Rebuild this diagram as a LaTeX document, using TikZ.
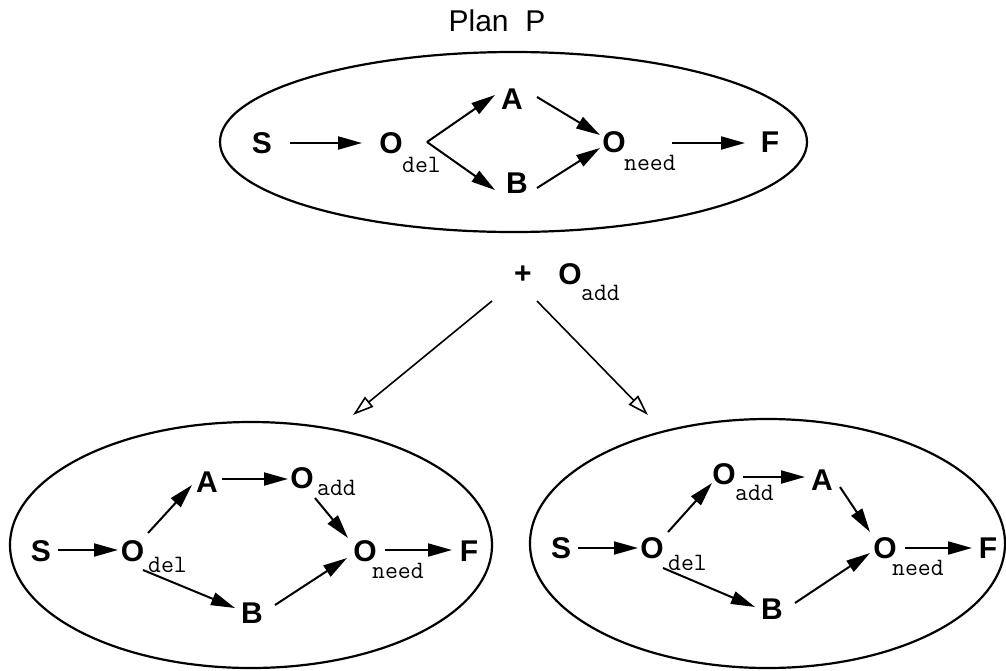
\documentclass[tikz,border=0pt]{standalone}
\usepackage{fontspec}
\setmainfont{Liberation Sans}
\setsansfont{Liberation Sans}
\usetikzlibrary{arrows.meta}
\begin{document}
\begin{tikzpicture}[x=1pt,y=-1pt,
  lett/.style={inner sep=0pt, font=\fontsize{30}{34}\selectfont\bfseries},
  sub/.style={inner sep=0pt, anchor=base west, font=\fontsize{25}{28}\selectfont\ttfamily},
  arr/.style={line width=2pt, -{Triangle[length=24pt,width=13pt]}},
  harr/.style={line width=1.6pt, -{Triangle[open,length=21pt,width=13pt,line width=1.6pt]}},
  oval/.style={line width=2.2pt}]
\useasboundingbox (0,0) rectangle (1006,670);

% title
\node[inner sep=0pt, anchor=base, font=\fontsize{30}{34}\selectfont] (title) at (497,31.5) {Plan\ \ P};

% ---- plan P ----
\draw[oval] (513.5,142) ellipse [x radius=293.5pt, y radius=90pt];
\node[lett] (tS)  at (262,143) {S};
\node[lett] (tOd) at (391,143) {O};
\node[sub]  (tdel) at (402,172) {del};
\node[lett] (tA)  at (512,99)  {A};
\node[lett] (tB)  at (517,183) {B};
\node[lett] (tOn) at (614,142) {O};
\node[sub]  (tneed) at (624,170) {need};
\node[lett] (tF)  at (770,142) {F};

\draw[arr] ([shift={(28,0)}]tS.center) -- ([shift={(-29,0)}]tOd.center);
\draw[arr] ([shift={(36,-1)}]tOd.center) -- ([shift={(-17,-4)}]tA.center);
\draw[arr] ([shift={(36,-1)}]tOd.center) -- ([shift={(-22,7)}]tB.center);
\draw[arr] ([shift={(25,-2)}]tA.center) -- ([shift={(-14,-7)}]tOn.center);
\draw[arr] ([shift={(20,5)}]tB.center) -- ([shift={(-14,6)}]tOn.center);
\draw[arr] ([shift={(58,1)}]tOn.center) -- ([shift={(-25,1)}]tF.center);

% ---- added operator ----
\node[lett] (plus) at (523,275) {+};
\node[lett] (pO)   at (570,274) {O};
\node[sub]  (padd) at (581,300) {add};
\coordinate (lend) at (353,415);
\coordinate (rend) at (648,415);
\draw[harr] ([shift={(-31,26)}]plus.center) -- (lend);
\draw[harr] ([shift={(14,26)}]plus.center) -- (rend);

% ---- left refinement ----
\draw[oval] (251,545) ellipse [x radius=241pt, y radius=123pt];
\node[lett] (lS)  at (41,551)  {S};
\node[lett] (lOd) at (132.5,551) {O};
\node[sub]  (ldel) at (148,572) {del};
\node[lett] (lA)  at (207,482) {A};
\node[lett] (lOa) at (302,478) {O};
\node[sub]  (ladd) at (317,495) {add};
\node[lett] (lOn) at (365,551) {O};
\node[sub]  (lneed) at (372,578) {need};
\node[lett] (lF)  at (469,551) {F};
\node[lett] (lB)  at (252,613) {B};

\draw[arr] ([shift={(17,-1)}]lS.center) -- ([shift={(-14.5,-1)}]lOd.center);
\draw[arr] ([shift={(15.5,-18)}]lOd.center) -- ([shift={(-15,3)}]lA.center);
\draw[arr] ([shift={(15,-3)}]lA.center) -- ([shift={(-14,1)}]lOa.center);
\draw[arr] ([shift={(13,20)}]lOa.center) -- ([shift={(-17,-13)}]lOn.center);
\draw[arr] ([shift={(10.5,19)}]lOd.center) -- ([shift={(-17,-5)}]lB.center);
\draw[arr] ([shift={(23,-8)}]lB.center) -- ([shift={(-18,7)}]lOn.center);
\draw[arr] ([shift={(20,-1)}]lOn.center) -- ([shift={(-17,-1)}]lF.center);

% ---- right refinement ----
\draw[oval] (767.5,543.5) ellipse [x radius=237.5pt, y radius=124.5pt];
\node[lett] (rS)  at (561,548) {S};
\node[lett] (rOd) at (652,548) {O};
\node[sub]  (rdel) at (668,570) {del};
\node[lett] (rOa) at (724,474) {O};
\node[sub]  (radd) at (735,500) {add};
\node[lett] (rA)  at (822,480) {A};
\node[lett] (rOn) at (885,548) {O};
\node[sub]  (rneed) at (892,575) {need};
\node[lett] (rF)  at (988,548) {F};
\node[lett] (rB)  at (772,609) {B};

\draw[arr] ([shift={(17,0)}]rS.center) -- ([shift={(-14,0)}]rOd.center);
\draw[arr] ([shift={(16,-16)}]rOd.center) -- ([shift={(-12,9)}]rOa.center);
\draw[arr] ([shift={(19,3)}]rOa.center) -- ([shift={(-17,-3)}]rA.center);
\draw[arr] ([shift={(18,7)}]rA.center) -- ([shift={(-15,-16)}]rOn.center);
\draw[arr] ([shift={(11,20)}]rOd.center) -- ([shift={(-17,-2)}]rB.center);
\draw[arr] ([shift={(23,-6)}]rB.center) -- ([shift={(-15,5)}]rOn.center);
\draw[arr] ([shift={(20,0)}]rOn.center) -- ([shift={(-16,0)}]rF.center);
\end{tikzpicture}
\end{document}
